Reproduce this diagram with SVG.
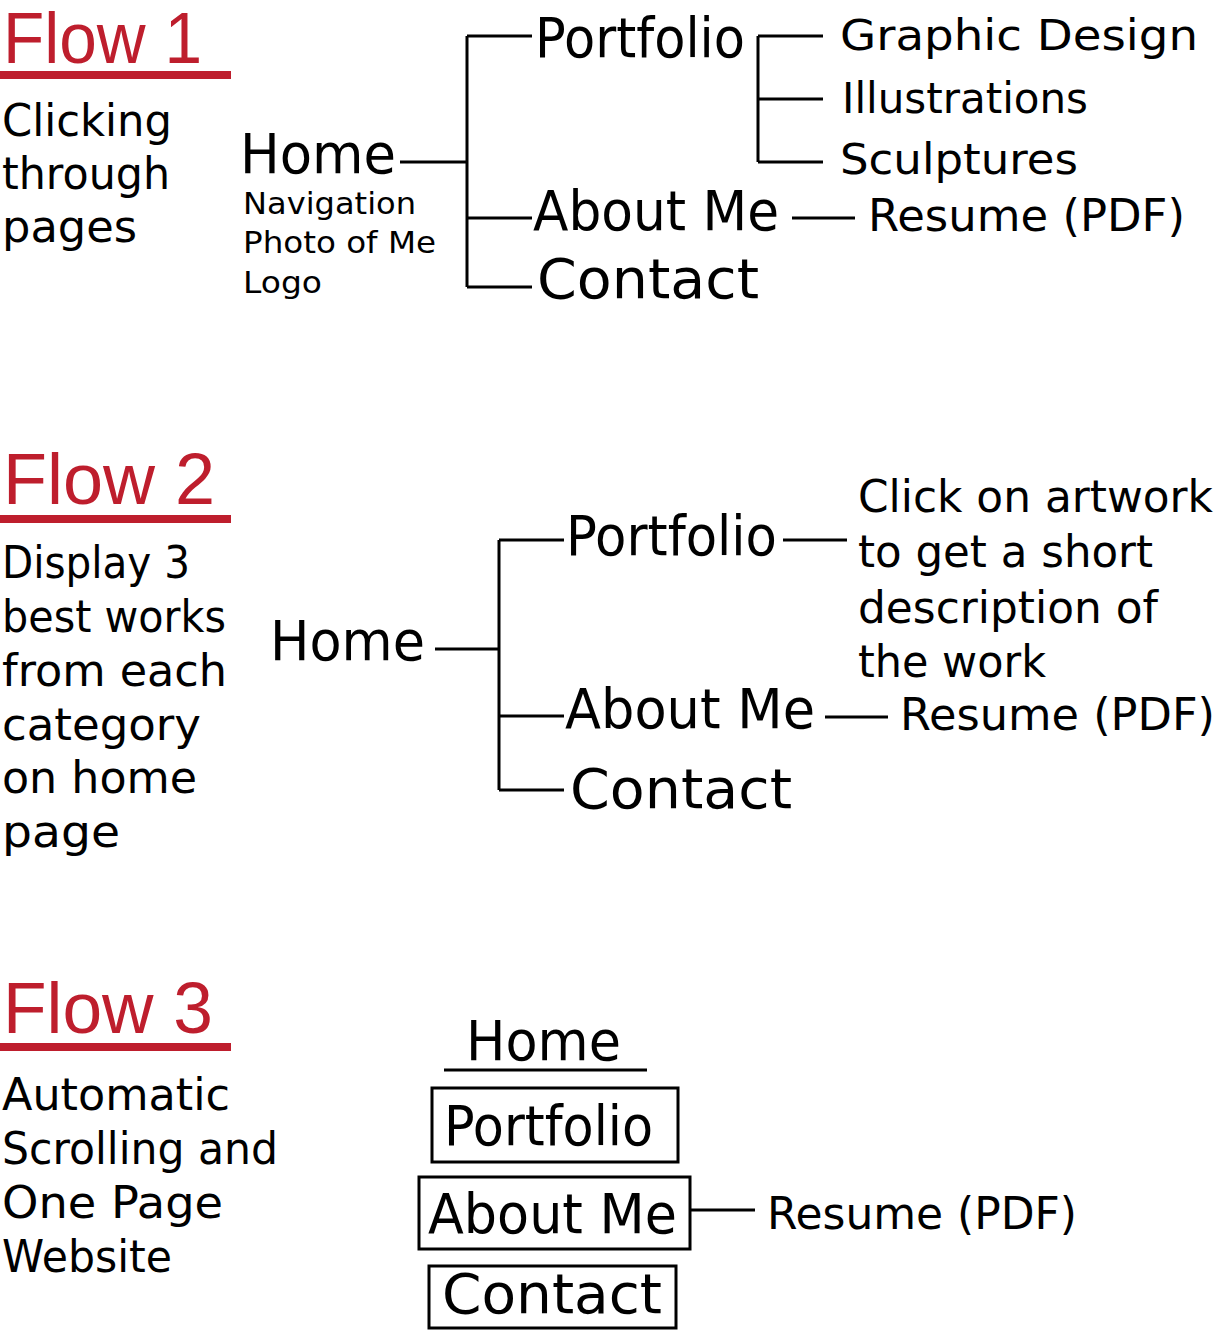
<svg xmlns="http://www.w3.org/2000/svg" width="1231" height="1334" viewBox="0 0 1231 1334">
<style>
text{font-family:"DejaVu Sans","Liberation Sans",sans-serif;fill:#000}
.title{font-family:"Liberation Sans","DejaVu Sans",sans-serif;font-size:72px;fill:#be1e2d}
.bar{fill:#be1e2d}
.desc{font-size:44px}
.big{font-size:55px}
.sub{font-size:42px}
.note{font-size:30px}
.res{font-size:45px}
.ln{stroke:#000;stroke-width:3;fill:none}
.box{stroke:#000;stroke-width:3;fill:#fff}
</style>
<rect width="1231" height="1334" fill="#fff"/>
<g id="connectors">
<path class="ln" d="M400,162 H467 M467,36 V287 M467,36 H532 M467,218 H532 M467,287 H532"/>
<path class="ln" d="M758,36 V162 M758,36 H823 M758,99 H823 M758,162 H823"/>
<path class="ln" d="M792,218 H855"/>
<path class="ln" d="M435,649 H499 M499,540 V790 M499,540 H564 M499,716 H564 M499,790 H564"/>
<path class="ln" d="M783,540 H847"/>
<path class="ln" d="M825,717 H888"/>
<path class="ln" d="M444,1070 H647"/>
<path class="ln" d="M690,1210 H755"/>
</g>
<g id="flow1-title"><text class="title" x="3" y="63" textLength="199" lengthAdjust="spacingAndGlyphs">Flow 1</text><rect class="bar" x="0" y="71" width="231" height="8"/></g>
<g id="flow1-desc">
<text class="desc" x="2" y="136" textLength="170" lengthAdjust="spacingAndGlyphs">Clicking</text>
<text class="desc" x="2" y="189" textLength="168" lengthAdjust="spacingAndGlyphs">through</text>
<text class="desc" x="2" y="242" textLength="135" lengthAdjust="spacingAndGlyphs">pages</text>
</g>
<g id="f1-home">
<text class="big" x="240" y="173" textLength="156" lengthAdjust="spacingAndGlyphs">Home</text>
<text class="note" x="243" y="214" textLength="173" lengthAdjust="spacingAndGlyphs">Navigation</text>
<text class="note" x="243" y="253" textLength="193" lengthAdjust="spacingAndGlyphs">Photo of Me</text>
<text class="note" x="243" y="293" textLength="79" lengthAdjust="spacingAndGlyphs">Logo</text>
</g>
<g id="f1-portfolio"><text class="big" x="535" y="57" textLength="210" lengthAdjust="spacingAndGlyphs">Portfolio</text></g>
<g id="f1-about"><text class="big" x="533" y="230" textLength="246" lengthAdjust="spacingAndGlyphs">About Me</text></g>
<g id="f1-contact"><text class="big" x="537" y="298" textLength="222" lengthAdjust="spacingAndGlyphs">Contact</text></g>
<g id="f1-graphic"><text class="sub" x="840" y="50" textLength="358" lengthAdjust="spacingAndGlyphs">Graphic Design</text></g>
<g id="f1-illustrations"><text class="sub" x="842" y="113" textLength="246" lengthAdjust="spacingAndGlyphs">Illustrations</text></g>
<g id="f1-sculptures"><text class="sub" x="840" y="174" textLength="238" lengthAdjust="spacingAndGlyphs">Sculptures</text></g>
<g id="f1-resume"><text class="res" x="868" y="231" textLength="317" lengthAdjust="spacingAndGlyphs">Resume (PDF)</text></g>

<g id="flow2-title"><text class="title" x="3" y="504" textLength="212" lengthAdjust="spacingAndGlyphs">Flow 2</text><rect class="bar" x="0" y="515" width="231" height="8"/></g>
<g id="flow2-desc">
<text class="desc" x="2" y="578" textLength="188" lengthAdjust="spacingAndGlyphs">Display 3</text>
<text class="desc" x="2" y="632" textLength="224" lengthAdjust="spacingAndGlyphs">best works</text>
<text class="desc" x="2" y="686" textLength="225" lengthAdjust="spacingAndGlyphs">from each</text>
<text class="desc" x="2" y="740" textLength="199" lengthAdjust="spacingAndGlyphs">category</text>
<text class="desc" x="2" y="793" textLength="195" lengthAdjust="spacingAndGlyphs">on home</text>
<text class="desc" x="2" y="847" textLength="118" lengthAdjust="spacingAndGlyphs">page</text>
</g>
<g id="f2-home"><text class="big" x="270" y="660" textLength="155" lengthAdjust="spacingAndGlyphs">Home</text></g>
<g id="f2-portfolio"><text class="big" x="566" y="555" textLength="211" lengthAdjust="spacingAndGlyphs">Portfolio</text></g>
<g id="f2-about"><text class="big" x="565" y="728" textLength="250" lengthAdjust="spacingAndGlyphs">About Me</text></g>
<g id="f2-contact"><text class="big" x="570" y="808" textLength="222" lengthAdjust="spacingAndGlyphs">Contact</text></g>
<g id="f2-click">
<text class="desc" x="858" y="512" textLength="355" lengthAdjust="spacingAndGlyphs">Click on artwork</text>
<text class="desc" x="858" y="567" textLength="295" lengthAdjust="spacingAndGlyphs">to get a short</text>
<text class="desc" x="858" y="623" textLength="300" lengthAdjust="spacingAndGlyphs">description of</text>
<text class="desc" x="858" y="677" textLength="188" lengthAdjust="spacingAndGlyphs">the work</text>
</g>
<g id="f2-resume"><text class="res" x="900" y="730" textLength="315" lengthAdjust="spacingAndGlyphs">Resume (PDF)</text></g>

<g id="flow3-title"><text class="title" x="3" y="1033" textLength="210" lengthAdjust="spacingAndGlyphs">Flow 3</text><rect class="bar" x="0" y="1043" width="231" height="8"/></g>
<g id="flow3-desc">
<text class="desc" x="2" y="1110" textLength="228" lengthAdjust="spacingAndGlyphs">Automatic</text>
<text class="desc" x="2" y="1164" textLength="276" lengthAdjust="spacingAndGlyphs">Scrolling and</text>
<text class="desc" x="2" y="1218" textLength="221" lengthAdjust="spacingAndGlyphs">One Page</text>
<text class="desc" x="2" y="1272" textLength="170" lengthAdjust="spacingAndGlyphs">Website</text>
</g>
<g id="f3-home"><text class="big" x="466" y="1060" textLength="155" lengthAdjust="spacingAndGlyphs">Home</text></g>
<g id="f3-portfolio"><rect class="box" x="432" y="1088" width="246" height="74"/><text class="big" x="444" y="1145" textLength="209" lengthAdjust="spacingAndGlyphs">Portfolio</text></g>
<g id="f3-about"><rect class="box" x="419" y="1177" width="271" height="72"/><text class="big" x="428" y="1233" textLength="249" lengthAdjust="spacingAndGlyphs">About Me</text></g>
<g id="f3-contact"><rect class="box" x="429" y="1266" width="247" height="62"/><text class="big" x="442" y="1313" textLength="220" lengthAdjust="spacingAndGlyphs">Contact</text></g>
<g id="f3-resume"><text class="res" x="767" y="1229" textLength="310" lengthAdjust="spacingAndGlyphs">Resume (PDF)</text></g>
</svg>
